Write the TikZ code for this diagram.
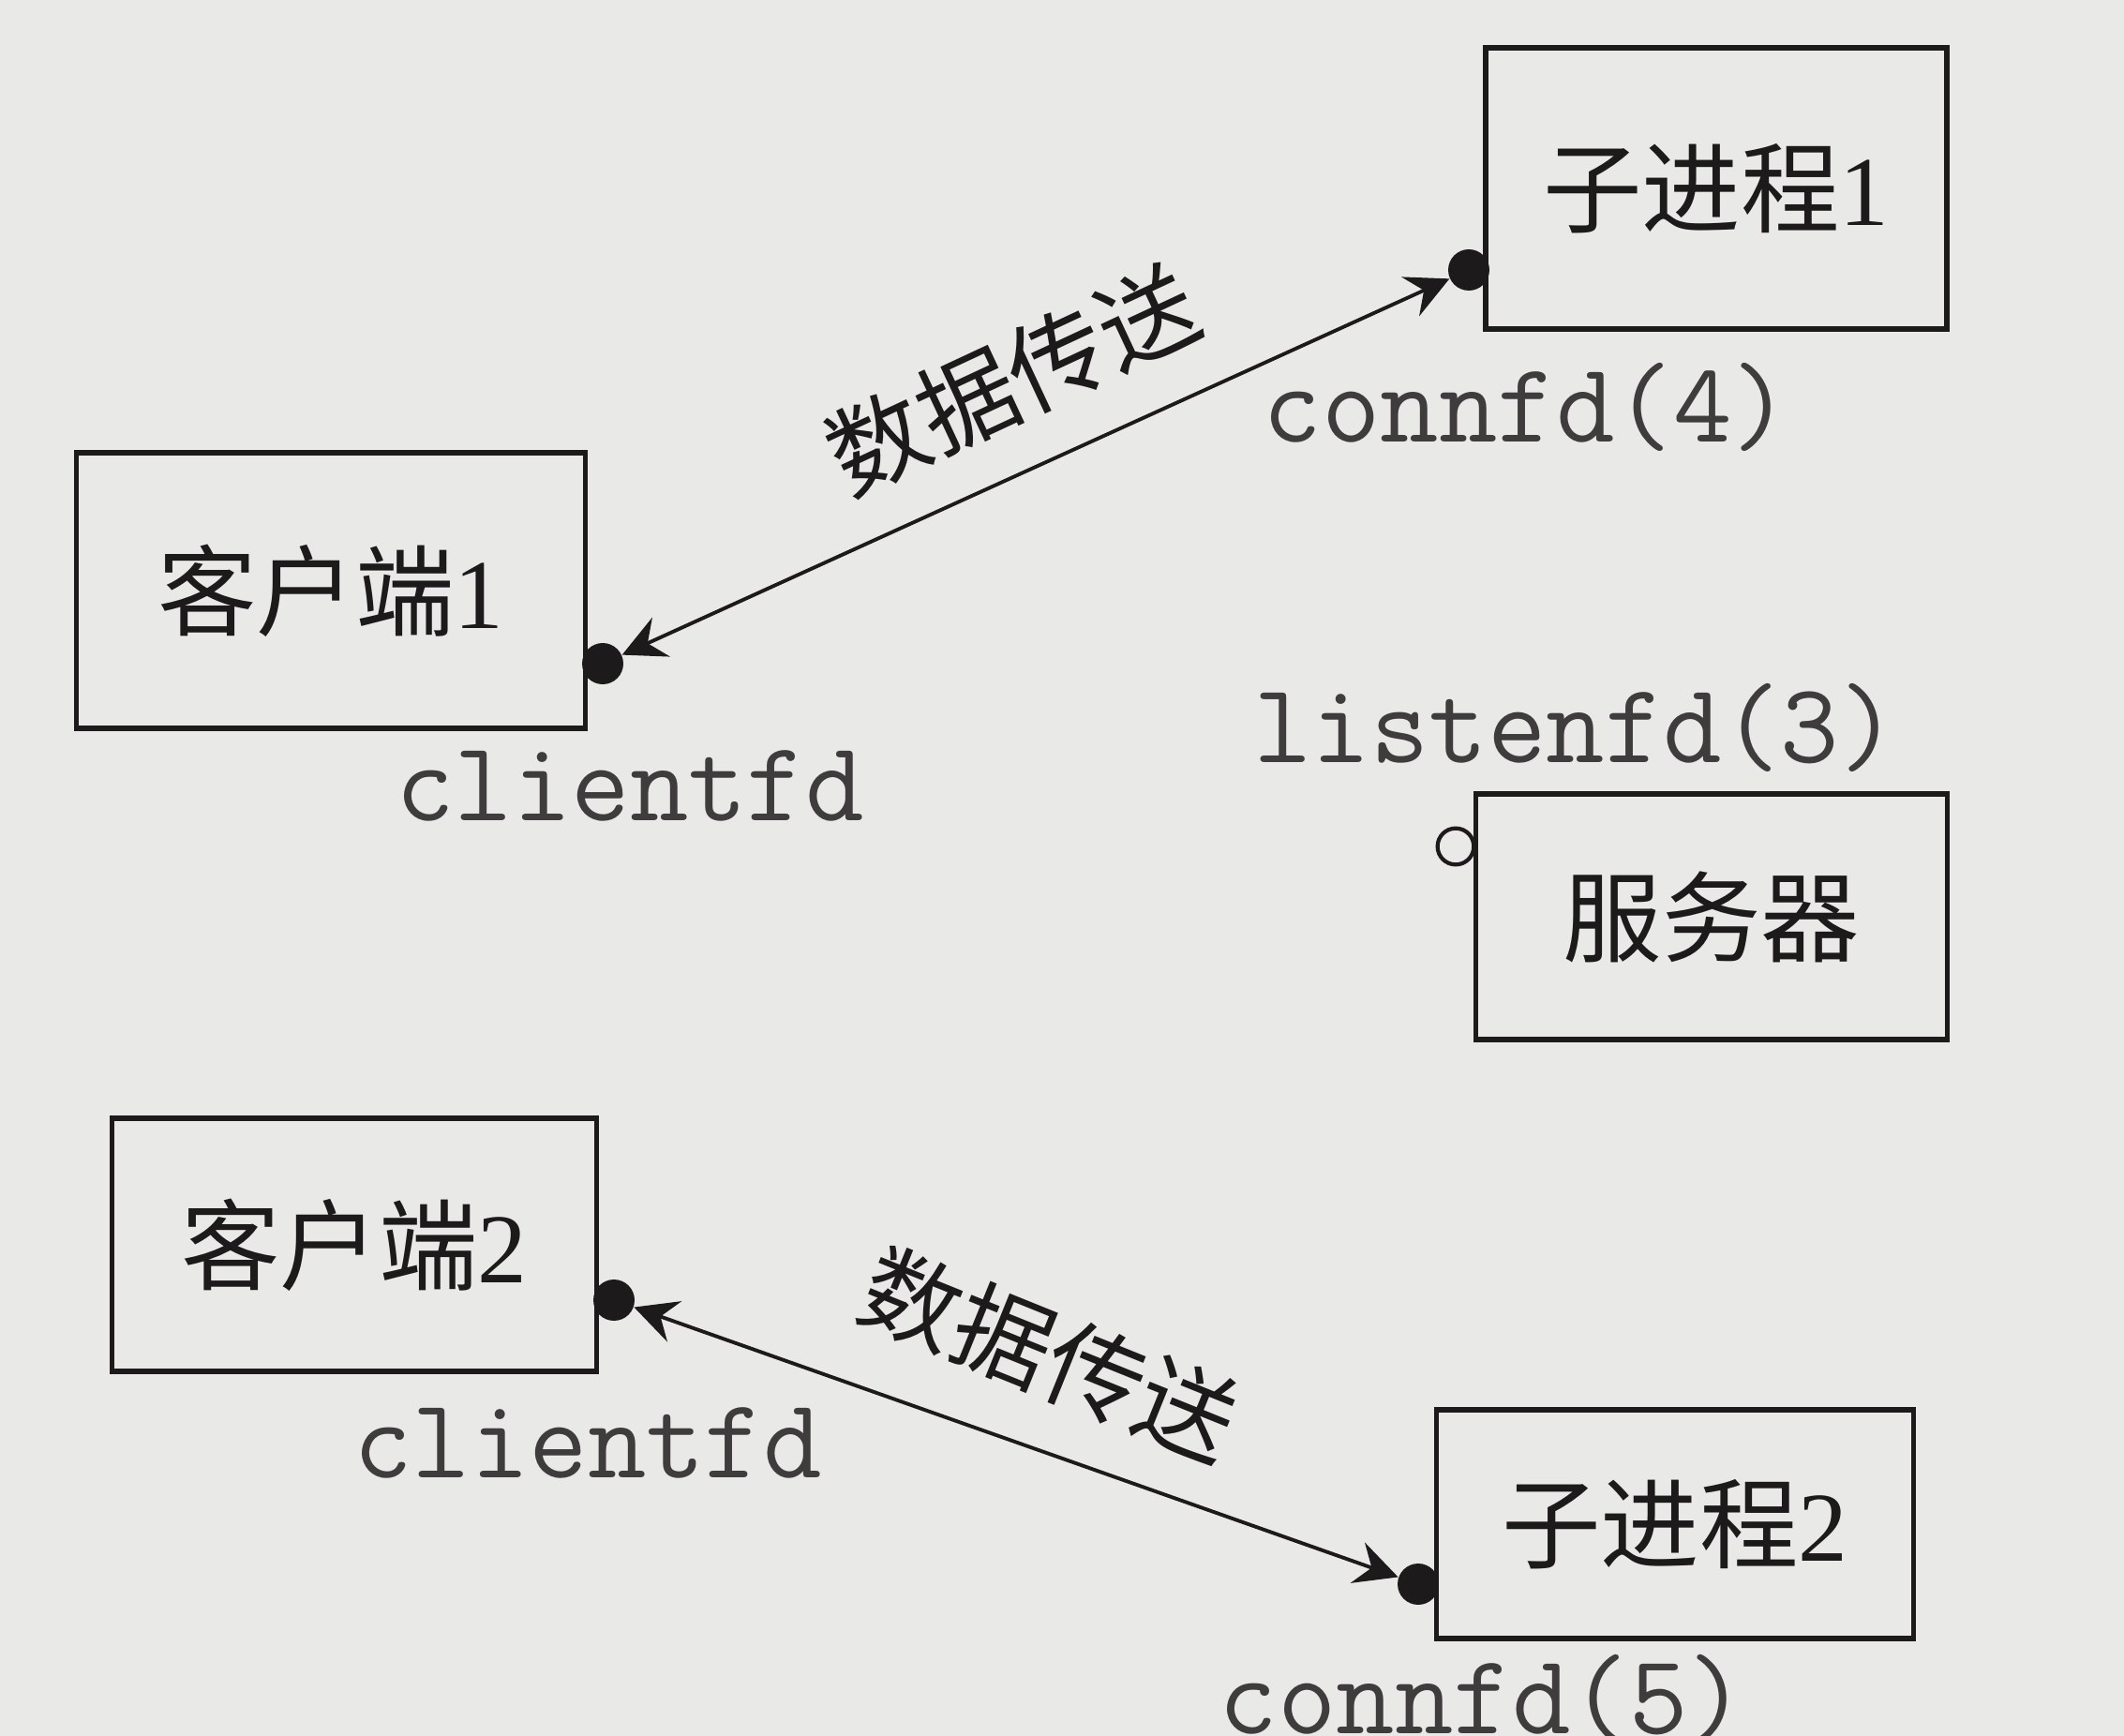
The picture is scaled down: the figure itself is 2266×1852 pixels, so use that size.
\documentclass[tikz,border=0pt]{standalone}
\usepackage{fontspec}
\setmainfont{Liberation Serif}
\newfontfamily\cjk{Noto Sans CJK SC}
\usetikzlibrary{arrows.meta}
\definecolor{bg}{RGB}{233,233,231}
\definecolor{ink}{RGB}{28,26,26}
\begin{document}
\begin{tikzpicture}[x=0.01cm,y=-0.01cm,
  box/.style={draw=ink, line width=1.6pt, inner sep=0pt, text=ink,
    font=\fontsize{30}{30}\selectfont},
  port/.style={circle, fill=ink, inner sep=0pt, minimum size=12.5pt},
  openport/.style={circle, draw=ink, line width=1.2pt, fill=bg, inner sep=0pt, minimum size=11pt},
  fdlabel/.style={font=\fontsize{34.5}{34.5}\selectfont\ttfamily, text=ink!85, inner sep=0pt},
  flowlabel/.style={font=\fontsize{30}{30}\selectfont\cjk, text=ink, inner sep=0pt},
  link/.style={draw=ink, line width=1.1pt, {Stealth[length=13pt,width=13pt,inset=4.5pt]}-{Stealth[length=13pt,width=13pt,inset=4.5pt]}}
]
\fill[bg] (0,0) rectangle (2266,1852);
\useasboundingbox (0,0) rectangle (2266,1852);

% boxes
\node[box, minimum width=4.92cm, minimum height=3.0cm] (s1) at (1831,201) {{\cjk 子进程}1};
\node[box, minimum width=5.43cm, minimum height=2.94cm] (c1) at (353,630) {{\cjk 客户端}1};
\node[box, minimum width=5.03cm, minimum height=2.62cm] (srv) at (1826,978) {{\cjk 服务器}};
\node[box, minimum width=5.17cm, minimum height=2.70cm] (c2) at (378,1328) {{\cjk 客户端}2};
\node[box, minimum width=5.09cm, minimum height=2.44cm] (s2) at (1787,1626) {{\cjk 子进程}2};

% ports
\node[port] (s1d) at (1567,288) {};
\node[port] (c1d) at (643,708) {};
\node[openport] (srvd) at (1553,903) {};
\node[port] (c2d) at (655,1387) {};
\node[port] (s2d) at (1513,1690) {};

% connectors
\draw[link] (c1d) -- (s1d);
\draw[link] (c2d) -- (s2d);

% labels
\node[flowlabel, rotate=25] (t1) at (1080,405) {数据传送};
\node[flowlabel, rotate=-22] (t2) at (1120,1445) {数据传送};
\node[fdlabel] (l1) at (1629,434) {connfd(4)};
\node[fdlabel] (l2) at (672,838) {clientfd};
\node[fdlabel] (l3) at (1681,776) {listenfd(3)};
\node[fdlabel] (l4) at (627,1539) {clientfd};
\node[fdlabel] (l5) at (1582,1812) {connfd(5)};
\end{tikzpicture}
\end{document}
